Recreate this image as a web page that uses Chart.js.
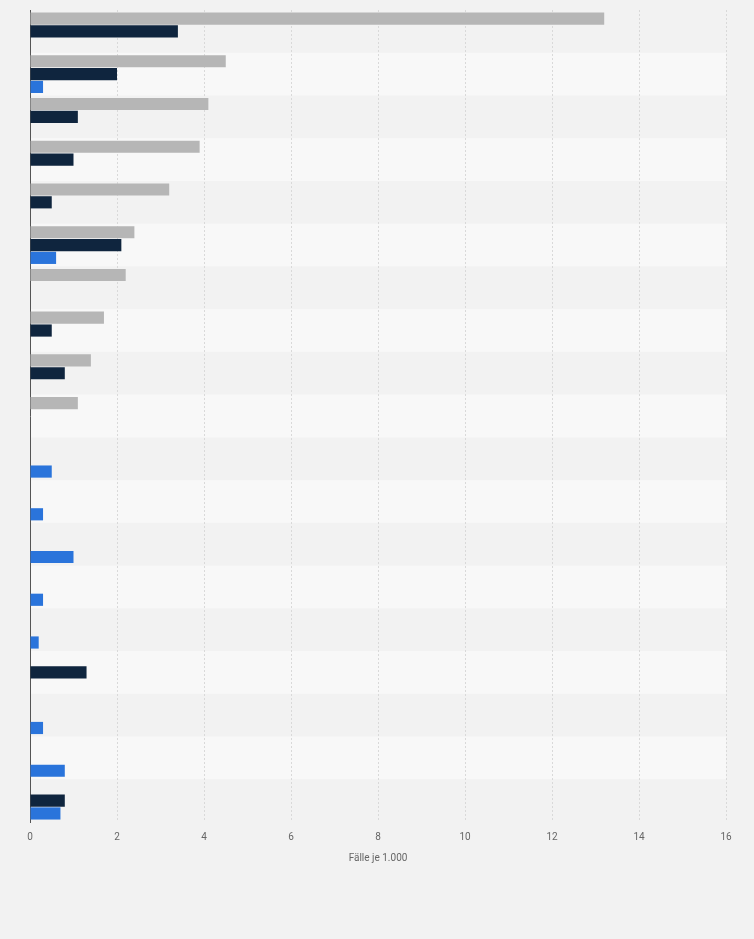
<!DOCTYPE html>
<html>
<head>
<meta charset="utf-8">
<script src="https://cdn.jsdelivr.net/npm/chart.js@4"></script>
<style>
  html, body { margin: 0; padding: 0; background: #f2f2f2; }
  #wrap { width: 754px; height: 939px; }
</style>
</head>
<body>
<div id="wrap"><canvas id="chart" width="754" height="939"></canvas></div>
<script>
// category names are not shown in the picture
const categories = ["", "", "", "", "", "", "", "", "", "", "", "", "", "", "", "", "", "", ""];

const grayValues = [13.2, 4.5, 4.1, 3.9, 3.2, 2.4, 2.2, 1.7, 1.4, 1.1, null, null, null, null, null, null, null, null, null];
const navyValues = [3.4, 2.0, 1.1, 1.0, 0.5, 2.1, null, 0.5, 0.8, null, null, null, null, null, null, 1.3, null, null, 0.8];
const blueValues = [null, 0.3, null, null, null, 0.6, null, null, null, null, 0.5, 0.3, 1.0, 0.3, 0.2, null, 0.3, 0.8, 0.7];

const xTicks = [0, 2, 4, 6, 8, 10, 12, 14, 16];

// alternating row bands behind the bars
const bands = {
  id: "bands",
  beforeDraw(c) {
    const { ctx, chartArea, scales } = c;
    const y = scales.y;
    const step = (y.getPixelForValue(1) - y.getPixelForValue(0));
    ctx.save();
    categories.forEach((_, i) => {
      if (i % 2 === 1) {
        const mid = y.getPixelForValue(i);
        ctx.fillStyle = "#f8f8f8";
        ctx.fillRect(chartArea.left, mid - step / 2, chartArea.right - chartArea.left, step);
      }
    });
    ctx.restore();
  }
};

new Chart(document.getElementById("chart"), {
  type: "bar",
  data: {
    labels: categories,
    datasets: [
      { label: "A", data: grayValues, backgroundColor: "#b6b6b6" },
      { label: "B", data: navyValues, backgroundColor: "#0f253e" },
      { label: "C", data: blueValues, backgroundColor: "#2a74db" }
    ]
  },
  options: {
    indexAxis: "y",
    responsive: false,
    animation: false,
    layout: { padding: { left: 22, right: 28, top: 10, bottom: 71 } },
    datasets: { bar: { categoryPercentage: 0.9, barPercentage: 0.95 } },
    plugins: { legend: { display: false }, tooltip: { enabled: false } },
    scales: {
      x: {
        min: 0, max: 16,
        afterBuildTicks: s => { s.ticks = xTicks.map(v => ({ value: v })); },
        grid: { color: "#d9d9d9", drawTicks: false, tickBorderDash: [2, 2] },
        border: { display: false, dash: [2, 2] },
        ticks: { color: "#666", font: { family: "Roboto", size: 10 }, padding: 9, maxRotation: 0 },
        title: { display: true, text: "Fälle je 1.000", color: "#666", font: { family: "Roboto", size: 10 }, padding: { top: 0, bottom: 4 } }
      },
      y: {
        grid: { display: false },
        border: { display: true, color: "#555", width: 1 },
        ticks: { display: false }
      }
    }
  },
  plugins: [bands]
});
</script>
</body>
</html>
